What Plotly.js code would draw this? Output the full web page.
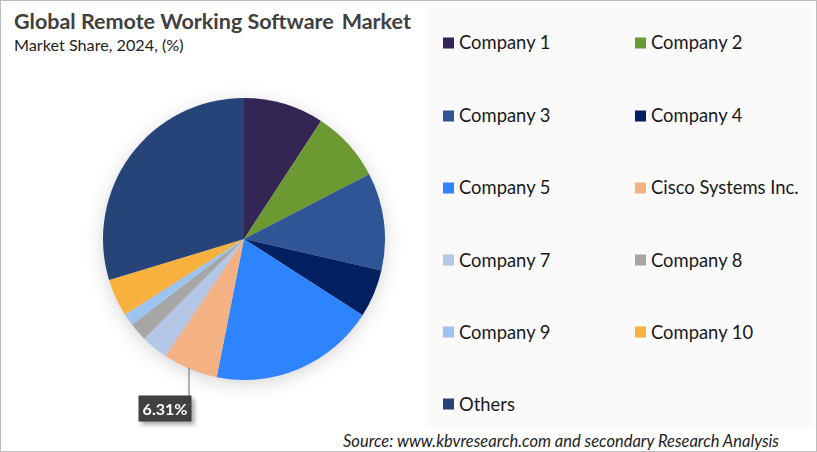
<!DOCTYPE html>
<html>
<head>
<meta charset="utf-8">
<script src="https://cdn.plot.ly/plotly-3.0.1.min.js"></script>
<style>html,body{margin:0;padding:0;background:#fff}#chart{width:817px;height:452px}</style>
</head>
<body>
<div id="chart"></div>
<script>
const companies = ["Company 1","Company 2","Company 3","Company 4","Company 5","Cisco Systems Inc.","Company 7","Company 8","Company 9","Company 10","Others"];
const shares = [9.2,8.2,11.2,5.5,19.0,6.31,3.1,2.1,1.4,4.3,29.69];
const colors = ["#332654","#6B9A33","#2F5597","#002060","#2E83FF","#F4B183","#B4C7E7","#A6A6A6","#9DC3F0","#F9B13D","#264478"];
const labelledIndex = 5;
const titleText = "Global Remote Working Software\u2009 Market";
const subtitleText = "Market Share, 2024, (%)";
const sourceText = "Source: www.kbvresearch.com and secondary Research Analysis";

const W = 817, H = 452;
const FONT = "Lato, 'Open Sans', sans-serif";
const px = x => x / W;
const py = y => 1 - y / H;

const shapes = [
  {type:"rect",xref:"paper",yref:"paper",x0:px(428),x1:px(813),y0:py(428),y1:py(8),fillcolor:"#FAFAFA",line:{width:0},layer:"below"},
  {type:"rect",xref:"paper",yref:"paper",x0:0,x1:1,y0:0,y1:1,fillcolor:"rgba(0,0,0,0)",line:{color:"#BDBDBD",width:2},layer:"below"},
  {type:"line",xref:"paper",yref:"paper",x0:px(189),x1:px(189),y0:py(368),y1:py(396),line:{color:"#666666",width:1}}
];
const annotations = [
  {text:"<b>"+titleText+"</b>",x:px(12),y:py(21),font:{size:21.5,color:"#404040",family:FONT}},
  {text:subtitleText,x:px(12),y:py(45),font:{size:16.2,color:"#222222",family:FONT}},
  {text:"<i>"+sourceText+"</i>",x:px(341),y:py(441),font:{size:16.5,color:"#222222",family:FONT}}
].map(a=>Object.assign(a,{xref:"paper",yref:"paper",xanchor:"left",yanchor:"middle",showarrow:false}));

const rowY = [42.5,115.5,187.5,259.5,331.5,403.5];
companies.forEach((name,i)=>{
  const col = i % 2, row = Math.floor(i / 2);
  const sx = col ? 635 : 443, cy = rowY[row];
  shapes.push({type:"rect",xref:"paper",yref:"paper",x0:px(sx),x1:px(sx+11),y0:py(cy+6),y1:py(cy-5),fillcolor:colors[i],line:{width:0}});
  annotations.push({text:name,xref:"paper",yref:"paper",x:px(sx+14),y:py(cy),xanchor:"left",yanchor:"middle",showarrow:false,font:{size:18.4,color:"#1a1a1a",family:FONT}});
});
annotations.push({
  text:"<b>"+shares[labelledIndex].toFixed(2)+"%</b>",
  xref:"paper",yref:"paper",x:px(165),y:py(408.5),xanchor:"center",yanchor:"middle",showarrow:false,
  bgcolor:"#404040",borderpad:3,width:46,height:19,font:{size:16,color:"#FFFFFF",family:FONT}
});

Plotly.newPlot("chart",[{
  type:"pie",labels:companies,values:shares,sort:false,direction:"clockwise",rotation:0,
  marker:{colors:colors,line:{width:0}},textinfo:"none",hoverinfo:"label+percent",showlegend:false,
  domain:{x:[px(103),px(385)],y:[py(380),py(98)]}
}],{
  width:W,height:H,margin:{l:0,r:0,t:0,b:0},paper_bgcolor:"#FFFFFF",showlegend:false,
  shapes:shapes,annotations:annotations,font:{family:FONT}
},{displayModeBar:false,staticPlot:true}).then(()=>{
  const p=document.querySelector(".pielayer");
  if(p)p.style.filter="drop-shadow(0 4px 9px rgba(0,0,0,0.16))";
  const a=document.querySelectorAll(".annotation");
  if(a.length)a[a.length-1].style.filter="drop-shadow(3px 3px 2px rgba(0,0,0,0.35))";
});
</script>
</body>
</html>
